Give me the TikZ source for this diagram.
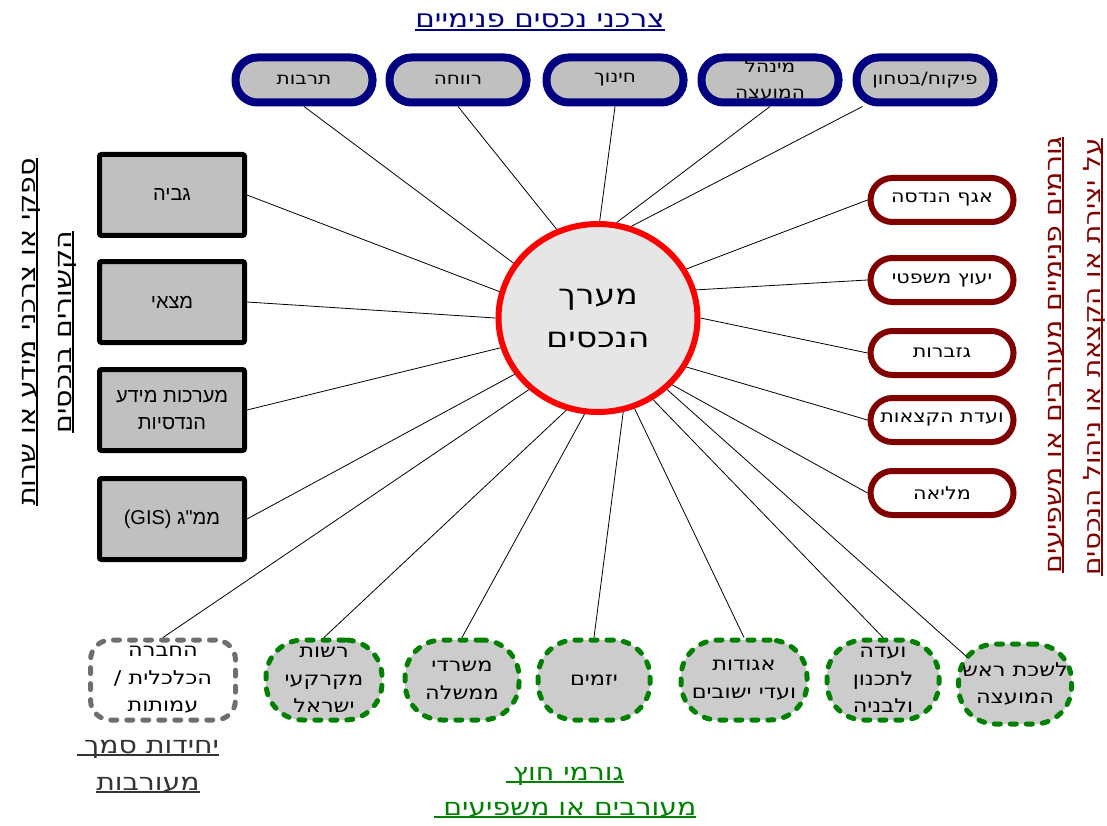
\documentclass[tikz,border=0pt]{standalone}
\usepackage{fontspec}
\setmainfont{DejaVu Sans}[Script=Hebrew,FakeStretch=1.18]
\newfontfamily\libfont{Liberation Sans}[Script=Hebrew]
\TeXXeTstate=1
\usetikzlibrary{shapes.geometric}
\newcommand\R[1]{\beginR#1\endR}
\newcommand\ulR[1]{\setbox0=\hbox{\beginR#1\endR}\rlap{\rule[-0.13em]{\wd0}{0.08em}}\box0}
\definecolor{navyc}{HTML}{000080}
\definecolor{maroonc}{HTML}{800000}
\definecolor{greenc}{HTML}{008000}
\definecolor{silverc}{HTML}{C0C0C0}
\definecolor{ellgray}{HTML}{CCCCCC}
\definecolor{hubfill}{HTML}{E6E6E6}
\definecolor{graydash}{HTML}{6E6E6E}
\definecolor{unittext}{HTML}{333333}
\tikzset{
  topbox/.style={draw=navyc, line width=8pt, fill=silverc, rounded corners=22pt,
    minimum width=137pt, minimum height=45pt, inner sep=0pt, align=center,
    font=\fontsize{17}{26}\selectfont},
  leftbox/.style={draw=black, line width=5pt, fill=silverc, rounded corners=2pt,
    minimum width=145pt, minimum height=81pt, inner sep=0pt, align=center,
    font=\libfont\fontsize{20}{27}\selectfont},
  rightbox/.style={draw=maroonc, line width=6pt, fill=white, rounded corners=22pt,
    minimum width=143pt, minimum height=44pt, inner sep=0pt, align=center,
    font=\fontsize{17.5}{26}\selectfont},
  extnode/.style={draw=greenc, fill=ellgray, line width=5pt, dash pattern=on 6pt off 10pt,
    line cap=round, rounded corners=37pt, minimum height=80pt, inner sep=0pt, align=center,
    font=\fontsize{19}{27.5}\selectfont},
  unitnode/.style={draw=graydash, fill=white, line width=5pt, dash pattern=on 6pt off 10pt,
    line cap=round, rounded corners=20pt, minimum width=145pt, minimum height=80pt,
    inner sep=0pt, align=center, font=\fontsize{19}{27.5}\selectfont},
  hub/.style={ellipse, draw=red, fill=hubfill, line width=6pt, minimum width=199pt,
    minimum height=188pt, inner sep=0pt, align=center, font=\fontsize{28}{43}\selectfont},
  link/.style={line width=0.8pt, draw=black},
  vtitle/.style={rotate=90, anchor=base, inner sep=0pt},
  htitle/.style={anchor=base, inner sep=0pt},
}
\begin{document}
\begin{tikzpicture}[x=1pt,y=-1pt]
\useasboundingbox (0,0) rectangle (1107,826);
% hub
\node[hub] (hub) at (598,318) {\R{מערך}\\\R{הנכסים}};
% top boxes
\node[topbox] (tarbut) at (304,80) {\R{תרבות}};
\node[topbox] (revacha) at (458,80) {\R{רווחה}};
\node[topbox] (chinuch) at (615,80) {\R{חינוך}};
\node[topbox] (minhal) at (770,80) {\R{מינהל}\\\R{המועצה}};
\node[topbox] (pikuach) at (925,80) {\R{פיקוח/בטחון}};
% left boxes
\node[leftbox] (gvia) at (172,195) {\R{גביה}};
\node[leftbox] (metzai) at (172,302) {\R{מצאי}};
\node[leftbox] (maarachot) at (172,410) {\R{מערכות מידע}\\\R{הנדסיות}};
\node[leftbox] (gis) at (172,519) {\beginR ממ"ג \beginL(GIS)\endL\endR};
% right boxes
\node[rightbox] (agaf) at (942,200) {\R{אגף הנדסה}};
\node[rightbox] (yeutz) at (942,280) {\R{יעוץ משפטי}};
\node[rightbox] (gizbarut) at (942,353) {\R{גזברות}};
\node[rightbox] (vaadat) at (942,420) {\R{ועדת הקצאות}};
\node[rightbox] (melia) at (942,493) {\R{מליאה}};
% bottom
\node[unitnode] (chevra) at (163,680) {\R{החברה}\\\R{הכלכלית /}\\\R{עמותות}};
\node[extnode, minimum width=116pt] (rashut) at (324,680) {\R{רשות}\\\R{מקרקעי}\\\R{ישראל}};
\node[extnode, minimum width=114pt] (misrdei) at (462,680) {\R{משרדי}\\\R{ממשלה}};
\node[extnode, minimum width=112pt] (yazamim) at (594,680) {\R{יזמים}};
\node[extnode, minimum width=126pt] (agudot) at (744,680) {\R{אגודות}\\\R{ועדי ישובים}};
\node[extnode, minimum width=112pt] (vaada) at (883,680) {\R{ועדה}\\\R{לתכנון}\\\R{ולבניה}};
\node[extnode, minimum width=113pt] (lishkat) at (1015,684) {\R{לשכת ראש}\\\R{המועצה}};
% titles
\node[htitle, text=navyc, font=\fontsize{25}{30}\selectfont] (ttop) at (540,28) {\ulR{צרכני נכסים פנימיים}};
\node[vtitle, font=\fontsize{24}{30}\selectfont] (tleft1) at (35,332) {\ulR{ספקי או צרכני מידע או שרות}};
\node[vtitle, font=\fontsize{24}{30}\selectfont] (tleft2) at (71,332) {\ulR{הקשורים בנכסים}};
\node[vtitle, text=maroonc, font=\fontsize{24}{30}\selectfont] (tright1) at (1061,355) {\ulR{גורמים  פנימיים מעורבים או משפיעים}};
\node[vtitle, text=maroonc, font=\fontsize{23.5}{30}\selectfont] (tright2) at (1100,357) {\ulR{על יצירת או הקצאת או ניהול הנכסים}};
\node[htitle, text=unittext, font=\fontsize{24}{30}\selectfont] (tunit1) at (148,753) {\ulR{יחידות סמך\hspace{0.3em}}};
\node[htitle, text=unittext, font=\fontsize{24}{30}\selectfont] (tunit2) at (148,790) {\ulR{מעורבות}};
\node[htitle, text=greenc, font=\fontsize{24}{30}\selectfont] (text1) at (565,780) {\ulR{גורמי חוץ\hspace{0.3em}}};
\node[htitle, text=greenc, font=\fontsize{24}{30}\selectfont] (text2) at (565,815) {\ulR{מעורבים או משפיעים\hspace{0.4em}}};
% connectors
\draw[link] (tarbut.south) -- (hub.147);
\draw[link] (revacha.south) -- (hub.115);
\draw[link] (chinuch.south) -- (hub.89);
\draw[link] (minhal.south) -- (hub.79);
\draw[link] ([xshift=10pt]pikuach.south west) -- (hub.70);
\draw[link] (gvia.east) -- (hub.165);
\draw[link] (metzai.east) -- (hub.180);
\draw[link] (maarachot.east) -- (hub.197);
\draw[link] (gis.east) -- (hub.214);
\draw[link] (agaf.west) -- (hub.29);
\draw[link] (yeutz.west) -- (hub.16);
\draw[link] (gizbarut.west) -- (hub.0);
\draw[link] (vaadat.west) -- (hub.331);
\draw[link] (melia.west) -- (hub.318);
\draw[link] (chevra.north) -- (hub.226);
\draw[link] (rashut.north) -- (hub.251);
\draw[link] (misrdei.north) -- (hub.262);
\draw[link] (yazamim.north) -- (hub.285);
\draw[link] (agudot.north) -- (hub.292);
\draw[link] (vaada.north) -- (hub.304);
\draw[link] ([shift={(-48,-27)}]lishkat.center) -- (hub.314);
\end{tikzpicture}
\end{document}
